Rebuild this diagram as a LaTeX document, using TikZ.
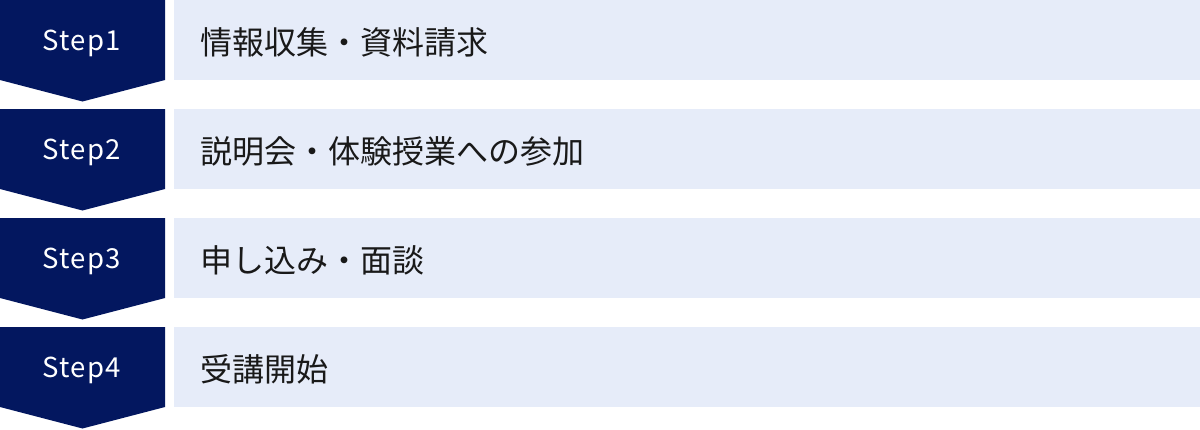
\documentclass[tikz,border=0pt]{standalone}
\usepackage{fontspec}
\setmainfont{Noto Sans CJK JP}
\definecolor{stepnavy}{RGB}{3,23,95}
\definecolor{rowblue}{RGB}{230,236,249}

\begin{document}
\begin{tikzpicture}[x=1pt, y=-1pt,
    steplabel/.style={text=white, font=\fontsize{27.5}{30}\selectfont\addfontfeature{LetterSpace=5}},
    rowlabel/.style={anchor=west, text=black!90, font=\fontsize{32}{36}\selectfont}]
                \useasboundingbox (0,0) rectangle (1200,429);
                % step arrows
                \fill[stepnavy] (0,0) -- (165,0) -- (165,80) -- (82.5,101.5) -- (0,80) -- cycle;
                \fill[stepnavy] (0,109) -- (165,109) -- (165,189) -- (82.5,210.5) -- (0,189) -- cycle;
                \fill[stepnavy] (0,218) -- (165,218) -- (165,298) -- (82.5,319.5) -- (0,298) -- cycle;
                \fill[stepnavy] (0,327) -- (165,327) -- (165,407) -- (82.5,428.5) -- (0,407) -- cycle;
                % rows
                \fill[rowblue] (174,0) rectangle (1200,80);
                \fill[rowblue] (174,109) rectangle (1200,189);
                \fill[rowblue] (174,218) rectangle (1200,298);
                \fill[rowblue] (174,327) rectangle (1200,407);
                \node[steplabel] (s1) at (81.5,43) {Step1};
                \node[steplabel] (s2) at (81.5,152) {Step2};
                \node[steplabel] (s3) at (81.5,261) {Step3};
                \node[steplabel] (s4) at (81.5,370) {Step4};
                \node[rowlabel] (t1) at (197,42) {情報収集・資料請求};
                \node[rowlabel] (t2) at (197,151) {説明会・体験授業への参加};
                \node[rowlabel] (t3) at (197,260) {申し込み・面談};
                \node[rowlabel] (t4) at (197,369) {受講開始};
                \end{tikzpicture}
\end{document}
